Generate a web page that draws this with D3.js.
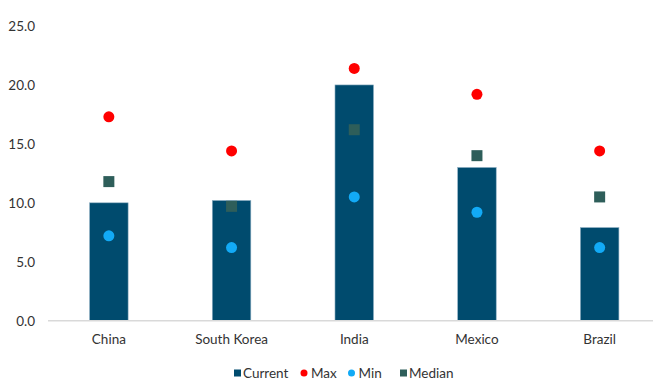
<!DOCTYPE html>
<html>
<head>
<meta charset="utf-8">
<script src="https://cdn.jsdelivr.net/npm/d3@7"></script>
<style>
  html, body { margin: 0; padding: 0; background: #fff; }
  svg { display: block; font-family: Lato, "Open Sans", sans-serif; }
</style>
</head>
<body>
<svg id="chart" width="653" height="380"></svg>
<script>
const countries = ["China", "South Korea", "India", "Mexico", "Brazil"];
const currentVals = [10.0, 10.2, 20.0, 13.0, 7.9];
const maxVals = [17.3, 14.4, 21.4, 19.2, 14.4];
const minVals = [7.2, 6.2, 10.5, 9.2, 6.2];
const medianVals = [11.8, 9.7, 16.2, 14.0, 10.5];
const yTicks = [0, 5, 10, 15, 20, 25];
const legendItems = ["Current", "Max", "Min", "Median"];

const colors = { Current: "#004b6e", Max: "#ff0000", Min: "#12aaf6", Median: "#2e5e5a" };

const svg = d3.select("#chart");
const W = 653;

const x = d3.scaleBand().domain(countries).range([47.5, 661]).paddingInner(0.686).paddingOuter(0.343);
const y = d3.scaleLinear().domain([0, 25]).range([320.7, 26]);

// y tick labels (no axis line)
const yAxis = d3.axisLeft(y).tickValues(yTicks).tickFormat(d3.format(".1f")).tickSize(0).tickPadding(0);
const gy = svg.append("g").attr("transform", "translate(35,0)").call(yAxis);
gy.select(".domain").remove();
gy.selectAll("text").attr("font-size", 13.5).attr("fill", "#333").attr("font-family", "Lato, sans-serif");

// bars
svg.append("g").selectAll("rect").data(countries).join("rect")
  .attr("x", d => x(d))
  .attr("width", x.bandwidth())
  .attr("y", (d, i) => y(currentVals[i]))
  .attr("height", (d, i) => y(0) - y(currentVals[i]))
  .attr("fill", colors.Current)
  .attr("stroke", "#8fb0c4")
  .attr("stroke-width", 0.6);

// baseline
svg.append("line")
  .attr("x1", 48).attr("x2", W).attr("y1", y(0)).attr("y2", y(0))
  .attr("stroke", "#d9d9d9").attr("stroke-width", 1.5);

// x labels
const xAxis = d3.axisBottom(x).tickSize(0).tickPadding(0);
const gx = svg.append("g").attr("transform", `translate(0,${y(0) + 13.5})`).call(xAxis);
gx.select(".domain").remove();
gx.selectAll("text").attr("font-size", 13.5).attr("fill", "#333").attr("font-family", "Lato, sans-serif");

const cx = d => x(d) + x.bandwidth() / 2;

// median squares
const sq = 11;
svg.append("g").selectAll("rect").data(countries).join("rect")
  .attr("x", d => cx(d) - sq / 2)
  .attr("y", (d, i) => y(medianVals[i]) - sq / 2)
  .attr("width", sq).attr("height", sq)
  .attr("fill", colors.Median);

// max dots
svg.append("g").selectAll("circle").data(countries).join("circle")
  .attr("cx", cx).attr("cy", (d, i) => y(maxVals[i])).attr("r", 5.5)
  .attr("fill", colors.Max);

// min dots
svg.append("g").selectAll("circle").data(countries).join("circle")
  .attr("cx", cx).attr("cy", (d, i) => y(minVals[i])).attr("r", 5.5)
  .attr("fill", colors.Min);

// legend
const legendX = [234, 304, 351.5, 400];
const legendY = 373;
const lg = svg.append("g");
legendItems.forEach((name, i) => {
  const g = lg.append("g").attr("transform", `translate(${legendX[i]},${legendY})`);
  if (name === "Max" || name === "Min") {
    g.append("circle").attr("cx", 0).attr("cy", 0).attr("r", 3.5).attr("fill", colors[name]);
  } else {
    g.append("rect").attr("x", 0).attr("y", -3.5).attr("width", 7).attr("height", 7).attr("fill", colors[name]);
  }
  g.append("text").attr("x", name === "Max" || name === "Min" ? 7 : 9).attr("y", 0).attr("dy", "0.35em")
    .attr("font-size", 13.5).attr("fill", "#333").text(name);
});
</script>
</body>
</html>
